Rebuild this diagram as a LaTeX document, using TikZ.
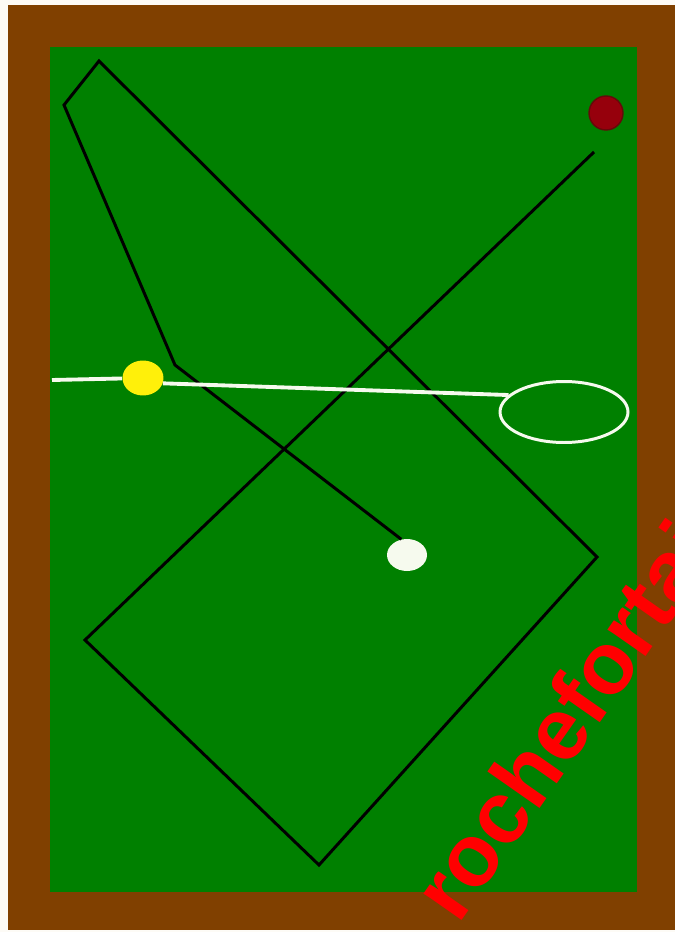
\documentclass[tikz,border=0pt]{standalone}
\usepackage{fontspec}
\setsansfont{Liberation Sans}
\usepackage{tikz}
\usetikzlibrary{
  positioning,
  shapes.geometric
}
\definecolor{railBrown}{RGB}{128, 64, 0}
\definecolor{clothGreen}{RGB}{0, 128, 0}
\definecolor{objectRed}{RGB}{150, 0, 12}
\definecolor{objectRedBorder}{RGB}{100, 10, 10}
\definecolor{ballYellow}{RGB}{255, 240, 10}
\definecolor{cueWhite}{RGB}{246, 250, 238}
\definecolor{pageWhite}{RGB}{253, 251, 246}
\definecolor{markRed}{RGB}{255, 0, 0}

\begin{document}
\begin{tikzpicture}[
    x=0.02cm, y=-0.02cm,
    ball/.style={ellipse, inner sep=0pt, draw=none},
    track/.style={draw=black, line width=1.7pt, line join=miter},
    shot/.style={draw=cueWhite, line width=2.2pt}
]
    \useasboundingbox (0,0) rectangle (675,932);
    \fill[pageWhite] (0,0) rectangle (675,932);
    \fill[railBrown] (8,5) rectangle (675,930);
    \fill[clothGreen] (50,47) rectangle (637,892);

    % balls and aiming ring
    \node[ball, fill=objectRed, draw=objectRedBorder, line width=0.8pt, minimum width=0.68cm, minimum height=0.68cm] (red) at (606,113) {};
    \node[ball, fill=ballYellow, minimum width=0.82cm, minimum height=0.7cm] (yellow) at (143,378) {};
    \node[ball, fill=cueWhite, minimum width=0.8cm, minimum height=0.64cm] (cue) at (407,555) {};
    \node[ball, draw=cueWhite, line width=1.7pt, minimum width=2.56cm, minimum height=1.22cm] (target) at (564,412) {};

    % cushion points of the black track
    \coordinate (k1) at (175,365);
    \coordinate (k2) at (64,105);
    \coordinate (k3) at (99,61);
    \coordinate (k4) at (597,557);
    \coordinate (k5) at (319,865);
    \coordinate (k6) at (85,640);
    \coordinate (stop) at (594,152);

    \draw[track] (cue.110) -- (k1) -- (k2) -- (k3) -- (k4) -- (k5) -- (k6) -- (stop);

    \coordinate (cushion) at (52,380);
    \draw[shot] (cushion) -- (yellow);
    \draw[shot] (yellow.-15) -- (target.163);

    \begin{scope}
      \clip (0,0) rectangle (675,932);
      \node[rotate=55, anchor=base west, inner sep=0pt, text=markRed, font=\sffamily\bfseries\fontsize{50}{50}\selectfont] (mark) at (458,926) {rochefortai};
    \end{scope}

\end{tikzpicture}
\end{document}
